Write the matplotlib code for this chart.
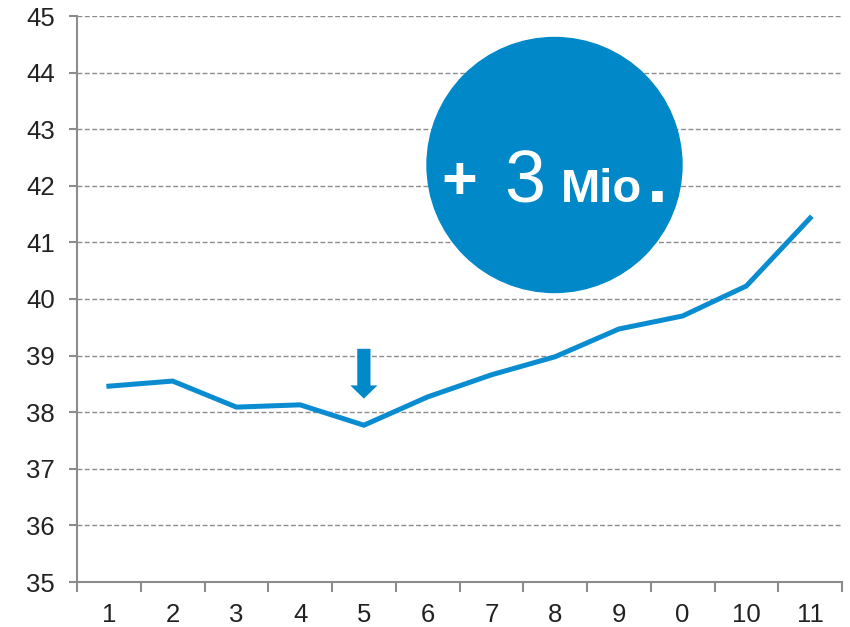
import matplotlib.pyplot as plt
from matplotlib.patches import Ellipse

plt.rcParams['font.family'] = ['Liberation Sans', 'DejaVu Sans']

labels = ["1", "2", "3", "4", "5", "6", "7", "8", "9", "0", "10", "11"]
values = [38.46, 38.55, 38.09, 38.13, 37.77, 38.27, 38.66, 38.98, 39.47, 39.70, 40.23, 41.43]
y_ticks = [35, 36, 37, 38, 39, 40, 41, 42, 43, 44, 45]

blue = "#0088C8"
gray = "#8c8c8c"

fig = plt.figure(figsize=(8.5, 6.27), dpi=100)
ax = fig.add_axes([77 / 850, 45 / 627, 765 / 850, 566 / 627])

x = list(range(len(labels)))
ax.plot(x, values, color="#0A8CD0", linewidth=3.6, solid_joinstyle="miter", zorder=3)

ax.set_xlim(-0.5, len(labels) - 0.5)
ax.set_ylim(35, 45)
ax.set_yticks(y_ticks)
ax.set_xticks(x)
ax.set_xticklabels(labels)
ax.set_xticks([i - 0.5 for i in range(len(labels) + 1)], minor=True)

ax.grid(axis="y", color=gray, linestyle=(0, (3.5, 1.8)), linewidth=1.0)
ax.set_axisbelow(True)
for s in ["top", "right"]:
    ax.spines[s].set_visible(False)
for s in ["left", "bottom"]:
    ax.spines[s].set_color(gray)
    ax.spines[s].set_linewidth(1.5)

ax.tick_params(axis="y", length=6, width=1.5, color=gray, labelsize=18.5, pad=10, labelcolor="#222222")
ax.tick_params(axis="x", which="major", length=0, labelsize=18.5, pad=15, labelcolor="#222222")
ax.tick_params(axis="x", which="minor", length=7, width=1.5, color=gray)

# arrow pointing at the dip
ax.annotate("", xy=(4, 38.24), xytext=(4, 39.12),
            arrowprops=dict(arrowstyle="simple,head_length=0.95,head_width=1.95,tail_width=0.95",
                            color=blue, shrinkA=0, shrinkB=0, mutation_scale=10, linewidth=0))

# big circle with text
circ = Ellipse((554.5 / 850, 1 - 165 / 627), 255 / 850, 255 / 627,
               transform=fig.transFigure, color=blue, zorder=5)
fig.patches.append(circ)
fig.text(459 / 850, 1 - 199 / 627, "+", fontsize=44, fontweight="bold", color="white",
         ha="center", va="baseline", zorder=6)
fig.text(525 / 850, 1 - 202 / 627, "3", fontsize=53, color="white", ha="center", va="baseline", zorder=6)
fig.text(561 / 850, 1 - 202 / 627, "Mio", fontsize=34, fontweight="bold", color="white",
         ha="left", va="baseline", zorder=6)
fig.text(647 / 850, 1 - 202 / 627, ".", fontsize=54, fontweight="bold", color="white",
         ha="left", va="baseline", zorder=6)

fig.savefig("out.png", dpi=100)
